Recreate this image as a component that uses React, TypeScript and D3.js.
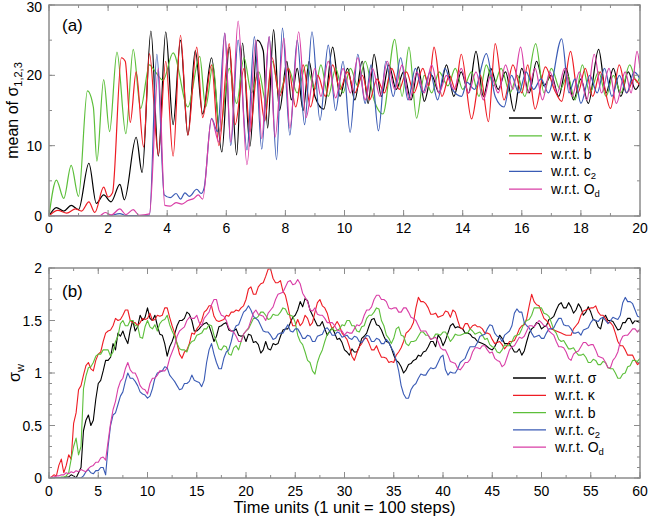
import React from "react";
import * as d3 from "d3";

// ---------- DATA: panel (a), mean of sigma_{1,2,3}; [time, value] turning points ----------
const topSigma: [number, number][] = [
  [0,0],[0.25,1.2],[0.5,0.7],[0.75,1.5],[1.0,0.9],[1.35,7.5],[1.6,1.8],[1.85,3],[2.1,2],[2.4,4.5],[2.55,2.3],
  [2.95,11.2],[3.15,6.2],[3.45,26.3],[3.7,8.5],[3.95,26.2],[4.2,13],[4.45,25],[4.7,11.5],[4.95,23.5],[5.2,14.5],
  [5.5,22.5],[5.85,9.1],[6.1,24],[6.35,8.7],[6.55,24.6],[6.8,9.9],[7.05,25],[7.25,23.5],[7.4,12.5],[7.6,26.5],
  [7.8,15],[8.05,22],[8.2,16.5],[8.4,21],[8.6,15],[8.8,22],[9.0,17],[9.3,15.2],[9.6,24],[9.85,17],[10.1,21],
  [10.35,16.5],[10.6,22],[10.8,16],[11.0,23],[11.25,17],[11.5,21.5],[11.75,18],[12.0,20.5],[12.25,16.5],[12.5,21.2],
  [12.7,16.3],[12.95,20],[13.2,17.5],[13.45,21.5],[13.7,17],[13.95,20.5],[14.2,17.5],[14.45,23.4],[14.7,17],[14.95,21],
  [15.2,18],[15.45,20.5],[15.74,14.9],[16.0,21],[16.25,17.5],[16.5,22],[16.75,18.5],[17.0,20],[17.25,17],[17.5,21],
  [17.75,16.5],[18.0,19.5],[18.25,16],[18.6,23.7],[18.85,17.5],[19.1,21],[19.35,17],[19.6,20.5],[19.85,18],[20,19]
];
const topKappa: [number, number][] = [
  [0,0],[0.25,5.1],[0.5,2.5],[0.75,7.2],[1.0,2.8],[1.3,17.8],[1.5,15.5],[1.62,7.8],[1.85,19.4],[2.05,12],[2.3,23.3],
  [2.6,11.7],[2.85,23.7],[3.1,15.3],[3.4,21.5],[3.6,20.5],[3.86,19.3],[4.2,23.2],[4.7,15.5],[5.1,22.7],[5.3,15.5],
  [5.55,21.5],[5.78,12],[6.1,21],[6.35,16],[6.6,22.5],[6.85,17.5],[7.1,20.5],[7.35,16],[7.55,22],[7.8,17.5],
  [8.1,21],[8.4,17.5],[8.7,21.5],[9.0,18],[9.2,21.5],[9.45,17],[9.7,21],[9.95,17.5],[10.2,21],[10.45,18.5],[10.7,22],
  [11.0,16.5],[11.3,14.5],[11.7,25.1],[11.95,17],[12.18,24],[12.44,13.9],[12.7,20],[12.95,17.5],[13.2,20.5],[13.5,18.5],
  [13.75,21],[14.0,18],[14.3,20.5],[14.55,17],[14.8,21.5],[15.05,18.5],[15.3,21],[15.6,17.5],[15.85,20],[16.1,17],
  [16.47,24.5],[16.75,17.5],[17.0,21],[17.3,18],[17.55,20],[17.8,16.5],[18.05,21.5],[18.3,17.5],[18.6,20.5],[18.85,17],
  [19.1,20],[19.35,17.5],[19.65,21.5],[19.9,19],[20,20]
];
const topB: [number, number][] = [
  [0,0],[0.3,0.8],[0.6,0.4],[0.9,1.0],[1.1,0.7],[1.35,2.0],[1.55,0.5],[1.85,4.1],[2.0,2.7],[2.15,3.3],[2.45,22.5],
  [2.58,22],[2.75,13.3],[2.95,20.5],[3.2,9.8],[3.4,23.1],[3.7,8.7],[3.95,22],[4.2,8.5],[4.45,25.7],[4.7,11.5],
  [5.0,24],[5.2,14],[5.5,21.5],[5.75,10],[6.1,24.5],[6.3,13],[6.6,21],[6.8,12],[7.05,20.5],[7.3,13.5],[7.55,22.5],
  [7.8,17],[8.1,21],[8.35,15.5],[8.6,21.5],[8.85,15.5],[9.1,20],[9.35,17],[9.6,21.5],[9.85,18],[10.1,20.5],[10.35,17.5],
  [10.6,20],[10.85,16.5],[11.1,19.5],[11.35,17.5],[11.6,21],[11.85,18],[12.1,20.5],[12.35,17.5],[12.65,21],[12.85,18.5],
  [13.03,24],[13.3,17],[13.55,20],[13.75,18],[13.95,23],[14.3,13.8],[14.6,20],[14.87,13.4],[15.1,24.5],[15.4,16.5],
  [15.7,21.5],[16.0,17.5],[16.2,21.5],[16.45,15.2],[16.8,21.2],[17.1,18],[17.35,16.3],[17.65,23.4],[17.9,17.5],[18.15,21],
  [18.4,17],[18.65,20.5],[19.0,15.3],[19.3,21.5],[19.55,17.5],[19.8,19.5],[20,18.5]
];
const topC2: [number, number][] = [
  [0,0],[2.0,0],[2.4,0.35],[2.6,0.05],[3.4,0.1],[3.65,23],[3.9,3],[4.1,2.6],[4.3,3.2],[4.45,2.4],[4.6,3.3],[4.75,2.8],
  [5.0,3.8],[5.15,3.2],[5.25,4],[5.5,13.9],[5.7,12],[5.95,26],[6.15,10],[6.4,25],[6.7,9.4],[6.95,25.5],[7.2,9.5],
  [7.45,25.5],[7.7,8],[7.9,26.7],[8.15,11.5],[8.4,25],[8.65,13],[8.9,26.2],[9.17,13.6],[9.45,24.3],[9.7,15],[9.95,22],
  [10.19,11.9],[10.45,23],[10.7,16],[10.9,21.5],[11.15,12.1],[11.4,22],[11.65,17],[11.9,22.5],[12.15,16.5],[12.4,21],
  [12.65,17.5],[12.9,20.5],[13.15,16.5],[13.4,21],[13.65,18],[13.96,17],[14.15,19],[14.4,18],[14.8,23.1],[15.1,17],
  [15.4,15.5],[15.65,20],[15.9,17.5],[16.15,20.5],[16.4,18],[16.65,19.5],[16.9,17.5],[17.35,25.2],[17.6,17.5],[17.8,19.5],
  [18.0,16],[18.3,20],[18.55,17.5],[18.8,21],[19.05,17],[19.3,20],[19.55,17.5],[19.8,20.5],[20,19.5]
];
const topOd: [number, number][] = [
  [0,0],[1.7,0],[1.9,0.5],[2.1,0.15],[2.4,1.0],[2.6,0.2],[2.85,0.9],[3.05,0.1],[3.4,0.3],[3.7,21],[3.92,1.5],[4.1,1.4],
  [4.3,1.9],[4.5,1.7],[4.7,2.2],[4.9,2.5],[5.05,3],[5.2,2.4],[5.5,13.8],[5.75,10.5],[5.95,26],[6.15,10.5],[6.4,27.7],
  [6.7,7.3],[7.0,25],[7.2,11],[7.45,25.5],[7.65,11.2],[7.95,25.3],[8.15,12.5],[8.45,26.2],[8.7,14],[9.0,21],[9.2,17],
  [9.45,22],[9.7,16.8],[9.95,21],[10.2,17.5],[10.45,22.5],[10.7,16.5],[10.95,21],[11.2,17],[11.45,22],[11.7,18],
  [11.95,21.5],[12.2,16.5],[12.45,20.5],[12.7,17.5],[12.95,21.5],[13.2,17.5],[13.45,20],[13.7,18],[13.95,21],[14.2,17.5],
  [14.45,20.5],[14.7,16.5],[14.95,20],[15.2,17.5],[15.45,21.5],[15.7,18],[15.96,24],[16.2,17.5],[16.45,21],[16.7,16.5],
  [16.95,20.5],[17.2,17.5],[17.45,21],[17.7,17],[17.95,20.5],[18.2,16.5],[18.45,23],[18.7,17.5],[18.95,21],[19.2,16],
  [19.5,20.5],[19.7,17.5],[19.9,23.4],[20,21]
];

// ---------- DATA: panel (b), sigma_W, sampled every 0.25 time units from t = 0 (40 values per 10 units) ----------
const wStep = 0.25;
const wSigma = [
  0,0,0,0,0,0,0,0.01,0.01,0.03,0.02,0,0.05,0.1,0.45,0.55,0.6,0.5,0.55,0.75,0.9,0.93,1.02,1.12,1.12,1.15,1.28,1.22,1.38,1.35,1.4,1.33,1.28,1.41,1.5,1.4,1.44,1.55,1.5,1.53,
  1.62,1.52,1.5,1.55,1.45,1.37,1.36,1.28,1.16,1.25,1.3,1.37,1.45,1.5,1.5,1.52,1.58,1.56,1.5,1.4,1.4,1.42,1.45,1.47,1.48,1.45,1.38,1.3,1.35,1.44,1.45,1.47,1.48,1.41,1.4,1.4,1.42,1.36,1.35,1.36,
  1.3,1.37,1.36,1.29,1.3,1.27,1.19,1.22,1.3,1.23,1.22,1.28,1.27,1.28,1.35,1.41,1.42,1.42,1.48,1.53,1.55,1.6,1.68,1.63,1.71,1.69,1.6,1.55,1.5,1.45,1.45,1.49,1.42,1.36,1.4,1.43,1.38,1.32,1.33,1.29,
  1.22,1.2,1.17,1.23,1.2,1.2,1.25,1.33,1.35,1.38,1.45,1.51,1.52,1.46,1.45,1.41,1.35,1.3,1.29,1.24,1.17,1.12,1.1,1.06,1.0,1.03,1.08,1.09,1.12,1.13,1.17,1.16,1.2,1.21,1.25,1.3,1.3,1.25,1.36,1.33,
  1.26,1.31,1.38,1.45,1.47,1.43,1.44,1.43,1.42,1.38,1.38,1.37,1.34,1.33,1.3,1.29,1.28,1.27,1.25,1.23,1.22,1.25,1.3,1.36,1.33,1.28,1.28,1.28,1.24,1.2,1.2,1.23,1.17,1.21,1.3,1.38,1.42,1.44,1.48,1.47,
  1.42,1.44,1.45,1.51,1.52,1.54,1.6,1.65,1.67,1.62,1.62,1.67,1.63,1.57,1.6,1.66,1.62,1.55,1.58,1.63,1.58,1.51,1.5,1.44,1.42,1.52,1.55,1.5,1.5,1.49,1.45,1.41,1.42,1.48,1.48,1.52,1.52,1.47,1.5,1.49,
  1.48
];
const wKappa = [
  0,0.01,0.03,0.02,0.12,0.18,0.05,0.12,0.22,0.18,0.52,0.62,0.84,0.88,0.98,1.07,1.1,1.04,1.02,1.12,1.18,1.2,1.3,1.38,1.4,1.41,1.45,1.52,1.5,1.51,1.55,1.6,1.6,1.5,1.48,1.48,1.45,1.48,1.52,1.51,
  1.52,1.57,1.5,1.51,1.55,1.54,1.55,1.62,1.62,1.53,1.45,1.38,1.28,1.18,1.14,1.2,1.22,1.28,1.38,1.37,1.42,1.45,1.5,1.58,1.6,1.64,1.64,1.54,1.5,1.49,1.5,1.51,1.55,1.54,1.58,1.58,1.6,1.59,1.62,1.64,
  1.7,1.8,1.82,1.75,1.75,1.82,1.85,1.86,1.92,1.99,1.99,1.9,1.86,1.86,1.88,1.78,1.74,1.64,1.52,1.45,1.45,1.51,1.45,1.48,1.55,1.52,1.45,1.48,1.58,1.67,1.7,1.64,1.62,1.57,1.48,1.42,1.45,1.49,1.45,1.38,
  1.35,1.32,1.25,1.16,1.12,1.19,1.25,1.28,1.33,1.33,1.28,1.22,1.22,1.26,1.2,1.15,1.15,1.14,1.1,1.11,1.1,1.17,1.2,1.24,1.3,1.38,1.4,1.43,1.48,1.62,1.72,1.68,1.68,1.66,1.62,1.56,1.56,1.57,1.53,1.54,
  1.55,1.59,1.58,1.53,1.6,1.58,1.5,1.43,1.42,1.47,1.47,1.42,1.45,1.46,1.44,1.44,1.42,1.38,1.38,1.37,1.32,1.28,1.29,1.3,1.27,1.23,1.26,1.3,1.3,1.31,1.36,1.42,1.45,1.46,1.52,1.64,1.75,1.68,1.65,1.64,
  1.58,1.52,1.5,1.47,1.42,1.41,1.4,1.39,1.38,1.37,1.36,1.36,1.36,1.42,1.45,1.48,1.55,1.59,1.6,1.61,1.62,1.62,1.64,1.58,1.55,1.55,1.52,1.48,1.48,1.45,1.38,1.3,1.26,1.26,1.22,1.17,1.17,1.17,1.12,1.08,
  1.1
];
const wB = [
  0,0,0,0,0,0.01,0.01,0.02,0.05,0.18,0.3,0.38,0.22,0.3,0.85,0.97,1.05,1.06,1.1,1.16,1.18,1.18,1.22,1.22,1.22,1.16,1.2,1.3,1.35,1.47,1.5,1.45,1.45,1.5,1.5,1.45,1.45,1.34,1.33,1.44,
  1.5,1.44,1.42,1.46,1.4,1.47,1.5,1.51,1.55,1.46,1.4,1.35,1.28,1.23,1.22,1.22,1.2,1.27,1.3,1.31,1.36,1.37,1.38,1.42,1.42,1.46,1.45,1.36,1.3,1.23,1.22,1.26,1.25,1.18,1.17,1.24,1.26,1.22,1.3,1.37,
  1.4,1.42,1.47,1.52,1.52,1.54,1.58,1.58,1.55,1.51,1.52,1.56,1.55,1.55,1.58,1.62,1.61,1.56,1.55,1.54,1.48,1.36,1.3,1.27,1.2,1.12,1.1,1.02,0.99,1.1,1.17,1.22,1.3,1.37,1.39,1.43,1.4,1.41,1.42,1.46,
  1.45,1.5,1.5,1.45,1.45,1.4,1.39,1.44,1.45,1.52,1.55,1.55,1.58,1.62,1.61,1.5,1.45,1.36,1.33,1.28,1.33,1.42,1.44,1.36,1.35,1.28,1.26,1.3,1.3,1.31,1.35,1.39,1.39,1.36,1.36,1.32,1.33,1.37,1.37,1.36,
  1.39,1.39,1.35,1.3,1.33,1.37,1.36,1.36,1.37,1.38,1.38,1.42,1.4,1.37,1.38,1.39,1.36,1.32,1.33,1.27,1.25,1.24,1.2,1.19,1.22,1.27,1.26,1.26,1.3,1.35,1.36,1.37,1.42,1.48,1.5,1.51,1.55,1.62,1.62,1.62,
  1.62,1.57,1.56,1.54,1.48,1.41,1.38,1.32,1.3,1.31,1.27,1.23,1.23,1.24,1.2,1.17,1.17,1.18,1.15,1.1,1.1,1.13,1.12,1.08,1.08,1.11,1.1,1.05,1.04,1.04,1.0,0.95,0.95,0.99,1.0,1.06,1.07,1.12,1.12,1.11,
  1.14
];
const wC2 = [
  0,0,0,0,0,0,0,0,0,0,0,0,0,0,0.02,0.06,0.08,0.05,0.04,0.07,0.07,0.1,0.1,0.03,0.3,0.5,0.6,0.62,0.7,0.78,0.82,0.92,1.0,0.95,0.95,0.92,0.88,0.82,0.8,0.79,
  0.76,0.78,0.85,0.95,1.0,1.01,1.02,1.06,1.05,0.98,0.95,0.92,0.88,0.84,0.85,0.9,0.9,0.92,0.98,0.93,0.92,0.91,0.87,0.93,1.1,1.22,1.28,1.18,1.1,1.04,1.04,1.14,1.2,1.22,1.3,1.4,1.45,1.46,1.52,1.58,
  1.6,1.64,1.6,1.54,1.52,1.5,1.45,1.4,1.39,1.39,1.36,1.32,1.33,1.37,1.38,1.38,1.42,1.46,1.4,1.39,1.42,1.42,1.38,1.33,1.33,1.36,1.35,1.3,1.3,1.35,1.36,1.37,1.42,1.43,1.4,1.36,1.36,1.39,1.38,1.34,
  1.35,1.36,1.33,1.32,1.35,1.34,1.3,1.29,1.32,1.36,1.35,1.3,1.3,1.33,1.32,1.28,1.28,1.32,1.29,1.24,1.2,1.12,1.02,0.88,0.8,0.76,0.76,0.84,0.88,0.9,0.95,0.99,0.98,0.98,1.02,1.05,1.04,1.05,1.1,1.15,
  1.17,1.03,0.98,1.01,1.0,1.0,1.04,1.1,1.12,1.14,1.2,1.25,1.25,1.25,1.29,1.35,1.36,1.37,1.42,1.46,1.45,1.38,1.35,1.34,1.3,1.36,1.38,1.4,1.45,1.57,1.61,1.58,1.58,1.48,1.45,1.43,1.38,1.34,1.35,1.36,
  1.33,1.33,1.38,1.42,1.42,1.43,1.48,1.52,1.52,1.46,1.45,1.45,1.42,1.38,1.38,1.39,1.36,1.41,1.42,1.43,1.48,1.51,1.5,1.49,1.52,1.53,1.5,1.47,1.5,1.53,1.52,1.51,1.55,1.67,1.72,1.68,1.68,1.66,1.6,1.54,
  1.53
];
const wOd = [
  0,0.01,0.01,0.02,0.02,0.03,0.03,0.05,0.04,0.06,0.05,0.07,0.06,0.08,0.07,0.06,0.09,0.11,0.12,0.15,0.15,0.19,0.2,0.17,0.35,0.52,0.65,0.73,0.85,0.92,0.95,1.04,1.1,1.03,1.0,1.0,0.95,0.88,0.85,0.84,
  0.8,0.9,0.95,0.95,0.98,1.02,1.02,1.02,1.05,1.14,1.2,1.26,1.35,1.4,1.42,1.44,1.5,1.53,1.52,1.52,1.55,1.48,1.45,1.52,1.55,1.58,1.65,1.7,1.7,1.6,1.55,1.54,1.5,1.43,1.4,1.39,1.35,1.3,1.3,1.37,
  1.4,1.43,1.5,1.57,1.6,1.56,1.55,1.54,1.5,1.57,1.6,1.63,1.7,1.75,1.76,1.77,1.82,1.87,1.88,1.84,1.85,1.89,1.85,1.76,1.72,1.68,1.6,1.59,1.62,1.56,1.55,1.55,1.52,1.48,1.48,1.48,1.45,1.41,1.4,1.4,
  1.36,1.39,1.38,1.38,1.42,1.46,1.45,1.48,1.55,1.6,1.6,1.63,1.7,1.74,1.74,1.7,1.7,1.68,1.62,1.61,1.62,1.62,1.58,1.58,1.62,1.62,1.58,1.53,1.52,1.5,1.45,1.4,1.4,1.4,1.36,1.32,1.33,1.34,1.3,1.24,
  1.22,1.22,1.17,1.11,1.1,1.09,1.04,1.03,1.06,1.1,1.1,1.13,1.2,1.24,1.24,1.23,1.26,1.26,1.22,1.19,1.2,1.14,1.12,1.11,1.06,1.08,1.15,1.22,1.25,1.26,1.3,1.34,1.33,1.35,1.4,1.45,1.45,1.44,1.47,1.5,
  1.48,1.45,1.45,1.4,1.38,1.36,1.3,1.25,1.25,1.24,1.2,1.14,1.12,1.18,1.2,1.21,1.25,1.29,1.29,1.26,1.27,1.27,1.22,1.16,1.15,1.14,1.1,1.05,1.05,1.12,1.15,1.2,1.3,1.35,1.36,1.36,1.39,1.42,1.42,1.39,
  1.42
];

const topXTicks = [0, 2, 4, 6, 8, 10, 12, 14, 16, 18, 20];
const topYTicks = [0, 10, 20, 30];
const botXTicks = [0, 5, 10, 15, 20, 25, 30, 35, 40, 45, 50, 55, 60];
const botYTicks = [0, 0.5, 1, 1.5, 2];

const C = {
  black: "#000000",
  green: "#5cbf3a",
  red: "#ee1c24",
  blue: "#3a5bb5",
  magenta: "#d93ea6",
};

const FONT = "'Liberation Sans', Arial, Helvetica, sans-serif";
const FRAME = "#8c8c8c";

const W = 648, H = 521;
const left = 49, right = 640;
const topP = { y0: 5, y1: 216 };
const botP = { y0: 268, y1: 478 };

function range(a: number, b: number, s: number) {
  const r: number[] = [];
  for (let v = a; v <= b + 1e-9; v += s) r.push(+v.toFixed(4));
  return r;
}

export default function App() {
  const xT = d3.scaleLinear().domain([0, 20]).range([left, right]);
  const yT = d3.scaleLinear().domain([0, 30]).range([topP.y1, topP.y0]);
  const xB = d3.scaleLinear().domain([0, 60]).range([left, right]);
  const yB = d3.scaleLinear().domain([0, 2]).range([botP.y1, botP.y0]);

  const lineT = d3.line<[number, number]>().x((d) => xT(d[0])).y((d) => yT(d[1])).curve(d3.curveMonotoneX);
  const lineB = d3.line<number>().x((_, i) => xB(i * wStep)).y((d) => yB(d)).curve(d3.curveLinear);

  const topSeries = [
    { name: "σ", sub: "", data: topSigma, color: C.black },
    { name: "κ", sub: "", data: topKappa, color: C.green },
    { name: "b", sub: "", data: topB, color: C.red },
    { name: "c", sub: "2", data: topC2, color: C.blue },
    { name: "O", sub: "d", data: topOd, color: C.magenta },
  ];
  const botSeries = [
    { name: "σ", sub: "", data: wSigma, color: C.black },
    { name: "κ", sub: "", data: wKappa, color: C.red },
    { name: "b", sub: "", data: wB, color: C.green },
    { name: "c", sub: "2", data: wC2, color: C.blue },
    { name: "O", sub: "d", data: wOd, color: C.magenta },
  ];

  const tickLines = (
    xs: number[], ys: number[], xScale: any, yScale: any, y0: number, y1: number, len: number, key: string
  ) => (
    <g key={key} stroke={FRAME} strokeWidth={1}>
      {xs.map((v, i) => (
        <g key={"x" + i}>
          <line x1={xScale(v)} x2={xScale(v)} y1={y1} y2={y1 - len} />
          <line x1={xScale(v)} x2={xScale(v)} y1={y0} y2={y0 + len} />
        </g>
      ))}
      {ys.map((v, i) => (
        <g key={"y" + i}>
          <line x1={left} x2={left + len} y1={yScale(v)} y2={yScale(v)} />
          <line x1={right} x2={right - len} y1={yScale(v)} y2={yScale(v)} />
        </g>
      ))}
    </g>
  );

  const legend = (series: any[], x0: number, y0: number, dy: number) => (
    <g fontFamily={FONT} fontSize={14}>
      {series.map((s, i) => (
        <g key={i} transform={`translate(${x0},${y0 + i * dy})`}>
          <line x1={0} x2={33} y1={0} y2={0} stroke={s.color} strokeWidth={1.3} />
          <text x={42} y={5} fill="#000">
            {"w.r.t. " + s.name}
            {s.sub ? (
              <tspan dy={3} fontSize={9.5}>{s.sub}</tspan>
            ) : null}
          </text>
        </g>
      ))}
    </g>
  );

  return (
    <svg width={W} height={H} style={{ position: "absolute", left: 0, top: 0, background: "#fff" }}>
      <defs>
        <clipPath id="clipT"><rect x={left} y={topP.y0} width={right - left} height={topP.y1 - topP.y0} /></clipPath>
        <clipPath id="clipB"><rect x={left} y={botP.y0} width={right - left} height={botP.y1 - botP.y0} /></clipPath>
      </defs>
      <rect x={0} y={0} width={W} height={H} fill="#fff" />

      {/* ----- Panel (a) ----- */}
      <g clipPath="url(#clipT)" fill="none">
        {topSeries.map((s, i) => (
          <path key={i} d={lineT(s.data) || ""} stroke={s.color} strokeWidth={1.2} strokeLinejoin="round" />
        ))}
      </g>
      {tickLines(range(0, 20, 1), range(0, 30, 5), xT, yT, topP.y0, topP.y1, 3, "tmin")}
      {tickLines(topXTicks, topYTicks, xT, yT, topP.y0, topP.y1, 6, "tmaj")}
      <rect x={left} y={topP.y0} width={right - left} height={topP.y1 - topP.y0} fill="none" stroke={FRAME} strokeWidth={1.5} />
      <g fontFamily={FONT} fontSize={14} fill="#000">
        {topXTicks.map((v, i) => (
          <text key={i} x={xT(v)} y={topP.y1 + 17} textAnchor="middle">{v}</text>
        ))}
        {topYTicks.map((v, i) => (
          <text key={i} x={left - 7} y={Math.max(yT(v) + 5, 12)} textAnchor="end">{v}</text>
        ))}
      </g>
      <text x={62} y={31} fontFamily={FONT} fontSize={17}>(a)</text>
      <text transform={`translate(18,${(topP.y0 + topP.y1) / 2}) rotate(-90)`} textAnchor="middle" fontFamily={FONT} fontSize={16}>
        mean of σ<tspan dy={4} fontSize={11}>1,2,3</tspan>
      </text>
      {legend(topSeries, 509, 118, 17.8)}

      {/* ----- Panel (b) ----- */}
      <g clipPath="url(#clipB)" fill="none">
        {botSeries.map((s, i) => (
          <path key={i} d={lineB(s.data) || ""} stroke={s.color} strokeWidth={1.1} strokeLinejoin="round" />
        ))}
      </g>
      {tickLines(range(0, 60, 2.5), range(0, 2, 0.1), xB, yB, botP.y0, botP.y1, 3, "bmin")}
      {tickLines(botXTicks, botYTicks, xB, yB, botP.y0, botP.y1, 6, "bmaj")}
      <rect x={left} y={botP.y0} width={right - left} height={botP.y1 - botP.y0} fill="none" stroke={FRAME} strokeWidth={1.5} />
      <g fontFamily={FONT} fontSize={14} fill="#000">
        {botXTicks.map((v, i) => (
          <text key={i} x={xB(v)} y={botP.y1 + 18} textAnchor="middle">{v}</text>
        ))}
        {botYTicks.map((v, i) => (
          <text key={i} x={left - 7} y={yB(v) + 5} textAnchor="end">{v}</text>
        ))}
      </g>
      <text x={62} y={297} fontFamily={FONT} fontSize={17}>(b)</text>
      <text transform={`translate(20,${(botP.y0 + botP.y1) / 2}) rotate(-90)`} textAnchor="middle" fontFamily={FONT} fontSize={16}>
        σ<tspan dy={4} fontSize={11}>w</tspan>
      </text>
      {legend(botSeries, 513, 378, 17.3)}
      <text x={(left + right) / 2} y={513} textAnchor="middle" fontFamily={FONT} fontSize={16.5}>
        Time units (1 unit = 100 steps)
      </text>
    </svg>
  );
}
